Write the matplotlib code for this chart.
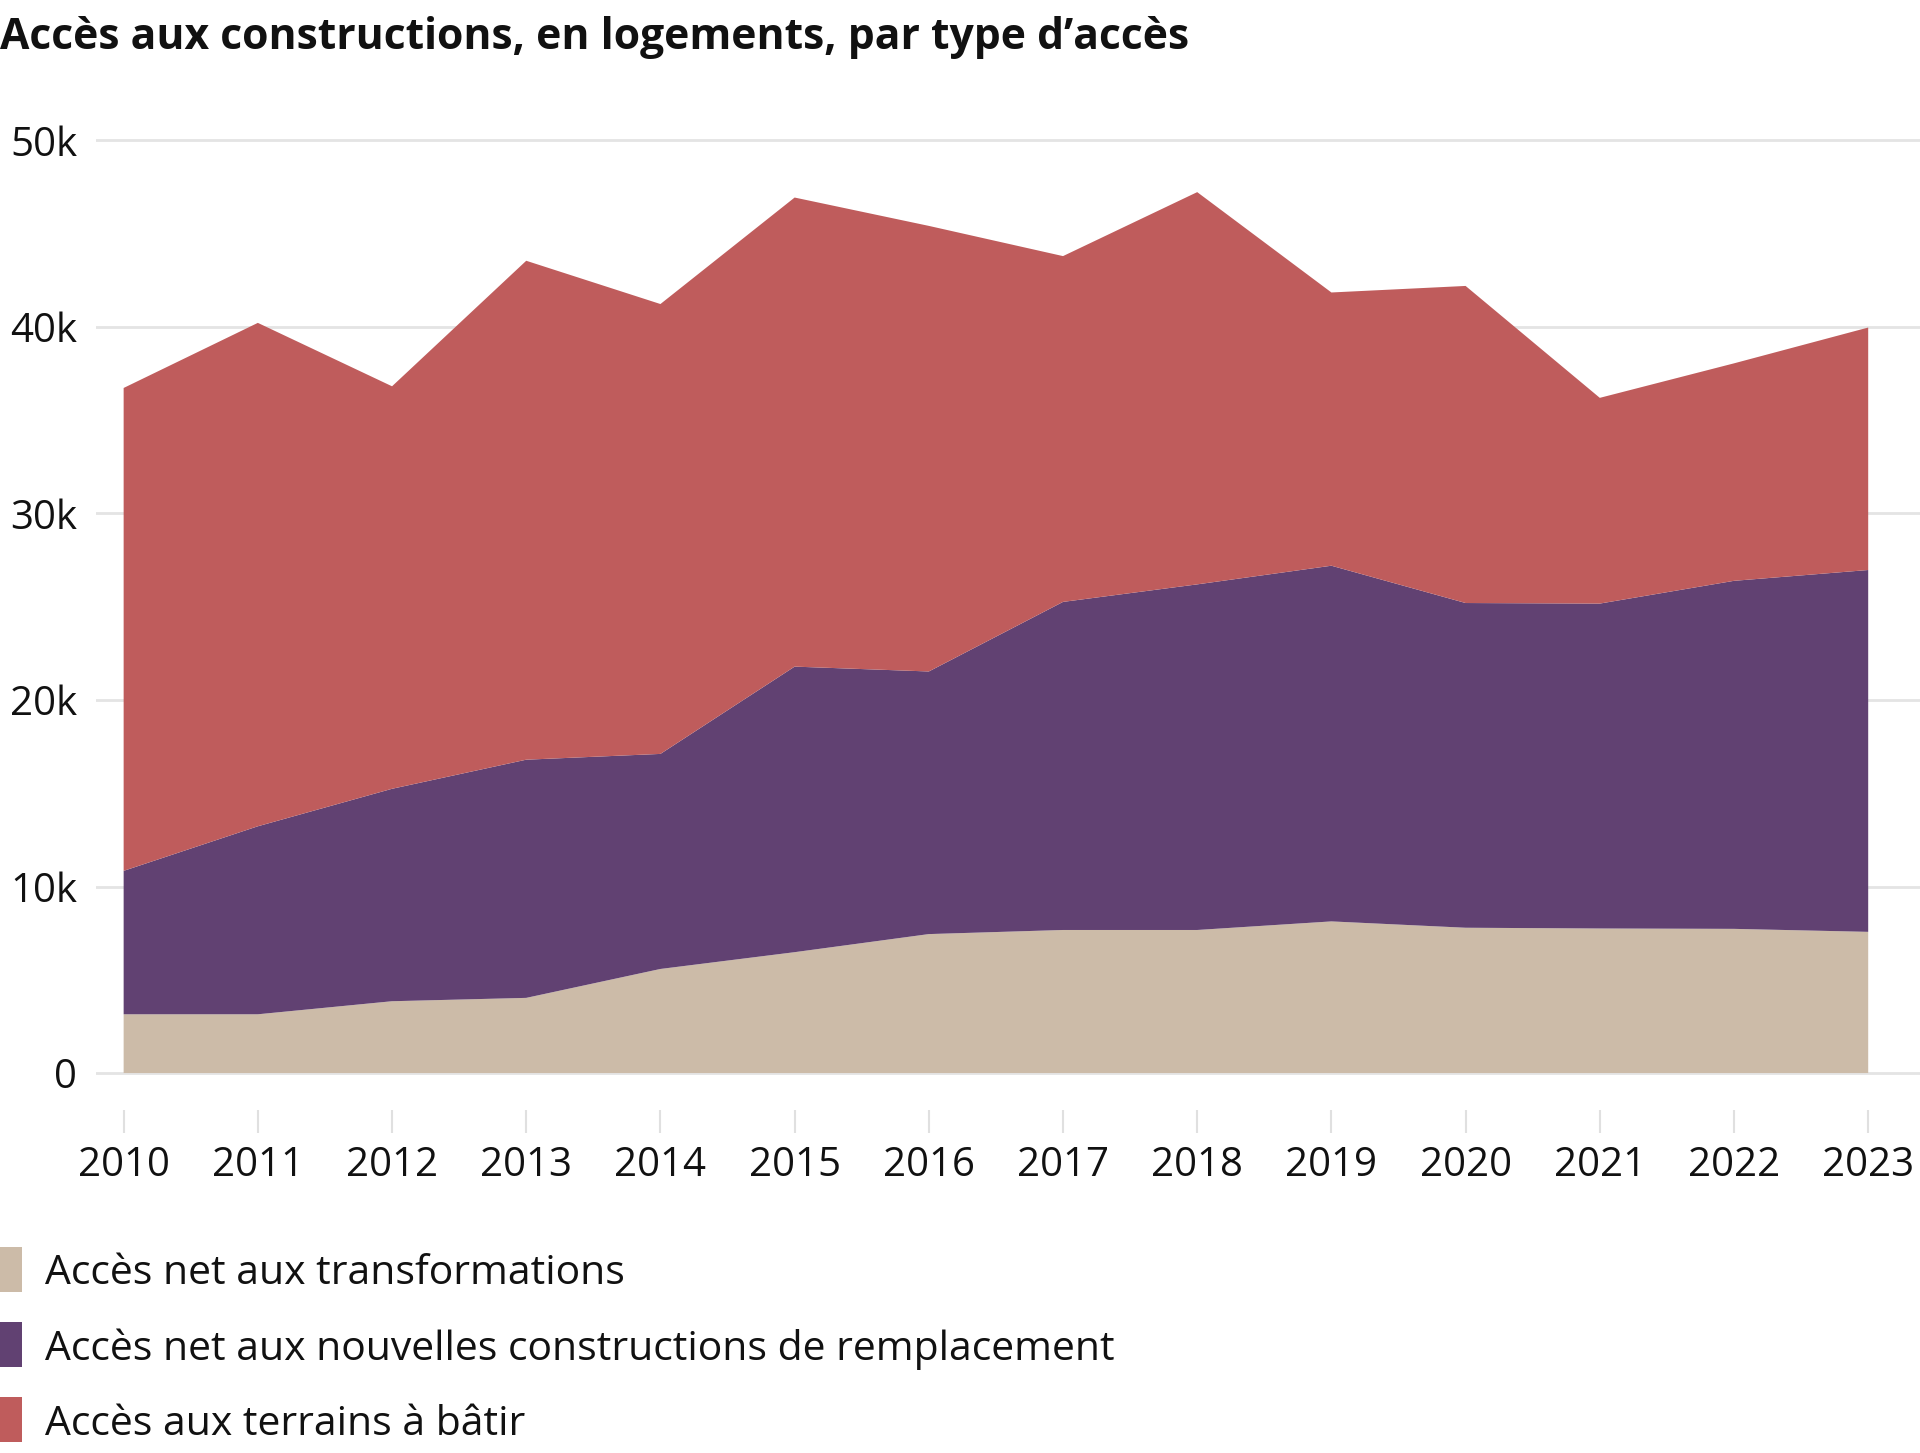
import matplotlib
matplotlib.use("Agg")
import matplotlib.pyplot as plt
from matplotlib.patches import Rectangle
from matplotlib.ticker import FuncFormatter

plt.rcParams['font.family'] = ['Open Sans', 'DejaVu Sans']

# data (logements)
years = [2010, 2011, 2012, 2013, 2014, 2015, 2016, 2017, 2018, 2019, 2020, 2021, 2022, 2023]
transformations = [3150, 3150, 3850, 4030, 5580, 6480, 7450, 7670, 7670, 8130, 7790, 7750, 7730, 7570]
remplacement = [7690, 10080, 11390, 12770, 11530, 15310, 14080, 17590, 18530, 19070, 17410, 17420, 18660, 19400]
terrains = [25890, 26990, 21580, 26750, 24120, 25150, 23890, 18540, 21030, 14650, 17000, 11030, 11660, 13000]

labels = ["Accès net aux transformations",
          "Accès net aux nouvelles constructions de remplacement",
          "Accès aux terrains à bâtir"]
colors = ["#CCBBA8", "#614172", "#BF5C5C"]
title = "Accès aux constructions, en logements, par type d’accès"

W, H = 1920, 1453
fig = plt.figure(figsize=(W / 100, H / 100), dpi=100)
ax = fig.add_axes([96 / W, 1 - 1080.5 / H, 1 - 96 / W, (1080.5 - 133) / H])

ax.stackplot(years, transformations, remplacement, terrains, colors=colors,
             linewidth=0)

ax.set_xlim(2009.794, 2023.386)
ax.set_ylim(-400, 50400)
ax.set_yticks(range(0, 50001, 10000))
ax.yaxis.set_major_formatter(FuncFormatter(lambda v, p: "0" if v == 0 else f"{int(v / 1000)}k"))
ax.set_xticks(years)

ax.set_axisbelow(True)
ax.grid(axis='y', color='#E4E4E4', linewidth=2)
for s in ax.spines.values():
    s.set_visible(False)
ax.spines['bottom'].set_position(('outward', 21))

ax.tick_params(axis='y', length=0, pad=13.5, labelsize=29, labelcolor='#111111')
ax.tick_params(axis='x', length=16.5, width=1.5, color='#E0E0E0', pad=9,
               labelsize=29, labelcolor='#111111')

fig.text(0.0, 1 - 49 / H, title, fontsize=30.7, fontweight='bold',
         color='#111111', va='baseline', ha='left')

# legend
for i, (lab, col) in enumerate(zip(labels, colors)):
    yc = 1269 + i * 75.3
    fig.add_artist(Rectangle((0, 1 - (yc + 22.5) / H), 22 / W, 45 / H,
                             transform=fig.transFigure, color=col, lw=0))
    fig.text(45 / W, 1 - (yc + 15.5) / H, lab, fontsize=29.4, color='#111111',
             va='baseline', ha='left')

fig.savefig("out.png", dpi=100)
